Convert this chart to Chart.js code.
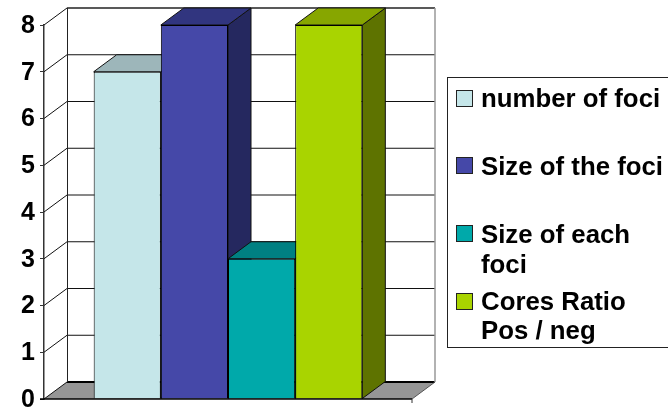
<!DOCTYPE html>
<html>
<head>
<meta charset="utf-8">
<style>
  html, body { margin: 0; padding: 0; background: #fff; }
  canvas { display: block; }
</style>
<script src="https://cdn.jsdelivr.net/npm/chart.js@4/dist/chart.umd.min.js"></script>
</head>
<body>
<canvas id="chart" width="668" height="411"></canvas>
<script>
// Series names and values
const categories = [''];
const seriesNames = ['number of foci', 'Size of the foci', 'Size of each foci', 'Cores Ratio Pos / neg'];
const numberOfFoci = [7];
const sizeOfTheFoci = [8];
const sizeOfEachFoci = [3];
const coresRatio = [8];
const yTicks = [0, 1, 2, 3, 4, 5, 6, 7, 8];

// Face colours for each bar: front, top, side
const frontColors = ['#C5E6E9', '#4548A8', '#00A9AA', '#A9D400'];
const topColors = ['#9DB6BA', '#31357F', '#008082', '#87A600'];
const sideColors = ['#7E9496', '#25285F', '#005F60', '#5E7300'];

// Word-wrapped legend rows
const legendRows = [
  { lines: ['number of foci'], swatchY: 90, baselines: [107] },
  { lines: ['Size of the foci'], swatchY: 157, baselines: [175] },
  { lines: ['Size of each', 'foci'], swatchY: 225, baselines: [243, 273] },
  { lines: ['Cores Ratio', 'Pos / neg'], swatchY: 293, baselines: [310, 339] }
];

// Oblique offset of the rear plane
const DEPTH_X = 23;
const DEPTH_Y = -17;

function poly(ctx, pts, fill, stroke, width) {
  ctx.beginPath();
  pts.forEach((p, i) => (i ? ctx.lineTo(p[0], p[1]) : ctx.moveTo(p[0], p[1])));
  ctx.closePath();
  if (fill) { ctx.fillStyle = fill; ctx.fill(); }
  if (stroke) { ctx.strokeStyle = stroke; ctx.lineWidth = width || 1; ctx.stroke(); }
}

function segment(ctx, x0, y0, x1, y1, color, width) {
  ctx.beginPath();
  ctx.moveTo(x0, y0);
  ctx.lineTo(x1, y1);
  ctx.strokeStyle = color;
  ctx.lineWidth = width || 1;
  ctx.stroke();
}

// Rear wall, side wall, floor and their gridlines
const walls = {
  id: 'walls',
  beforeDatasetsDraw(chart) {
    const { ctx, scales: { x, y } } = chart;
    const left = x.left, right = x.right;
    const base = y.getPixelForValue(0);
    const backL = left + DEPTH_X, backR = right + DEPTH_X;
    ctx.save();
    poly(ctx, [[left, base], [backL, base + DEPTH_Y], [backR, base + DEPTH_Y], [right, base]], '#969696');
    yTicks.forEach(v => {
      const py = y.getPixelForValue(v);
      if (v > 0) {
        segment(ctx, left, py, backL, py + DEPTH_Y, '#111', 1);
        segment(ctx, backL, py + DEPTH_Y, backR, py + DEPTH_Y, v === 8 ? '#222' : '#111', v === 8 ? 1.5 : 1);
      }
    });
    segment(ctx, left, base, backL, base + DEPTH_Y, '#111', 1);
    segment(ctx, backL, base + DEPTH_Y, backR, base + DEPTH_Y, '#000', 2);
    segment(ctx, right, base, backR, base + DEPTH_Y, '#555', 1);
    segment(ctx, backL + 0.5, y.getPixelForValue(8) + DEPTH_Y, backL + 0.5, base + DEPTH_Y, '#222', 1);
    segment(ctx, backR, y.getPixelForValue(8) + DEPTH_Y, backR, base + DEPTH_Y, '#999', 1.5);
    ctx.restore();
  }
};

// Paints the bars left to right, so each one overlaps its left neighbour's
// depth faces: side and top first, then the front from the bar element
const barDepth = {
  id: 'barDepth',
  beforeDatasetsDraw(chart) {
    const { ctx } = chart;
    chart.data.datasets.forEach((_, i) => {
      const meta = chart.getDatasetMeta(i);
      const { x, y, base, width } = meta.data[0].getProps(['x', 'y', 'base', 'width'], true);
      const l = x - width / 2, r = x + width / 2;
      ctx.save();
      ctx.lineJoin = 'round';
      poly(ctx, [[r, y], [r + DEPTH_X, y + DEPTH_Y], [r + DEPTH_X, base + DEPTH_Y], [r, base]], sideColors[i], '#111', 1);
      poly(ctx, [[l, y], [l + DEPTH_X, y + DEPTH_Y], [r + DEPTH_X, y + DEPTH_Y], [r, y]], topColors[i], '#111', 1);
      ctx.restore();
      meta.controller.draw();
    });
  },
  // The bars are already painted above, so the default pass is skipped
  beforeDatasetDraw() {
    return false;
  }
};

// Baseline with its end ticks, and the legend panel
const overlay = {
  id: 'overlay',
  afterDraw(chart) {
    const { ctx, scales: { x, y } } = chart;
    const base = y.getPixelForValue(0);
    ctx.save();
    segment(ctx, x.left - 4, base, x.right, base, '#000', 1.5);
    segment(ctx, x.right, base, x.right, base + 4, '#333', 1);

    ctx.strokeStyle = '#222';
    ctx.lineWidth = 1;
    ctx.strokeRect(447.5, 77.5, 240, 270);
    ctx.font = 'bold 25.8px "Liberation Sans", Arial, sans-serif';
    ctx.textBaseline = 'alphabetic';
    ctx.textAlign = 'left';
    legendRows.forEach((row, i) => {
      ctx.fillStyle = frontColors[i];
      ctx.fillRect(456.5, row.swatchY + 0.5, 16, 16);
      ctx.strokeStyle = '#222';
      ctx.strokeRect(456.5, row.swatchY + 0.5, 16, 16);
      ctx.fillStyle = '#000';
      row.lines.forEach((line, k) => ctx.fillText(line, 481, row.baselines[k]));
    });
    ctx.restore();
  }
};

const seriesValues = [numberOfFoci, sizeOfTheFoci, sizeOfEachFoci, coresRatio];

new Chart(document.getElementById('chart'), {
  type: 'bar',
  data: {
    labels: categories,
    datasets: seriesValues.map((values, i) => ({
      label: seriesNames[i],
      data: values,
      backgroundColor: frontColors[i],
      borderColor: '#000',
      borderWidth: 1
    }))
  },
  options: {
    responsive: false,
    animation: false,
    devicePixelRatio: 1,
    layout: { padding: { top: 25, bottom: 12, right: 256, left: 0 } },
    datasets: { bar: { categoryPercentage: 0.73, barPercentage: 1 } },
    plugins: { legend: { display: false }, tooltip: { enabled: false } },
    scales: {
      x: { display: false, stacked: false },
      y: {
        min: 0,
        max: 8,
        afterFit(scale) {
          scale.width = 44;
          scale.paddingTop = 0;
          scale.paddingBottom = 0;
        },
        afterBuildTicks(scale) {
          scale.ticks = yTicks.map(value => ({ value }));
        },
        grid: { drawOnChartArea: false, drawTicks: true, tickLength: 4, color: '#333', lineWidth: 1 },
        border: { display: true, color: '#333', width: 1.5 },
        ticks: {
          color: '#000',
          padding: 5,
          labelOffset: 1,
          font: { family: '"Liberation Sans", Arial, sans-serif', weight: 'bold', size: 25, lineHeight: 1 }
        }
      }
    }
  },
  plugins: [walls, barDepth, overlay]
});
</script>
</body>
</html>
